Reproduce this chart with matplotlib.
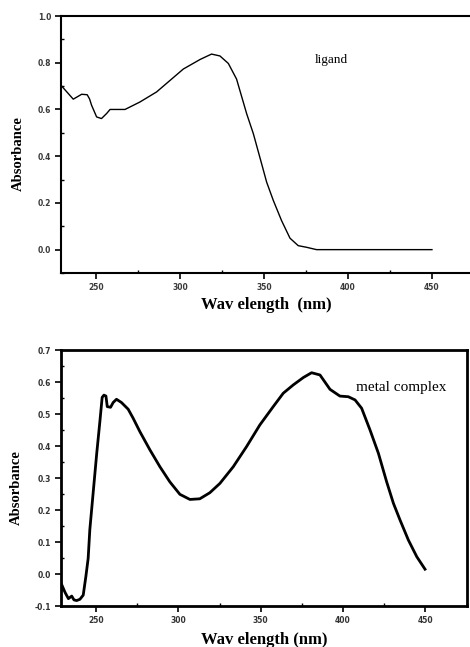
import matplotlib
matplotlib.use("Agg")
import matplotlib.pyplot as plt
from matplotlib.ticker import MultipleLocator

# ---------------------------------------------------------------------------
# Data
# ---------------------------------------------------------------------------
ligand_wl = [229.6, 236.5, 241.5, 244.8, 246.2, 247.4, 250.4, 253.3, 256.4,
             258.4, 267.3, 276.2, 286.1, 302.0, 312.0, 318.8, 323.8, 328.8,
             333.7, 339.7, 343.7, 348.6, 351.6, 355.6, 360.5, 365.5, 370.4,
             375.4, 381.3, 450.0]
ligand_abs = [0.700, 0.644, 0.665, 0.663, 0.645, 0.618, 0.568, 0.561, 0.583,
              0.600, 0.600, 0.632, 0.675, 0.773, 0.814, 0.837, 0.829, 0.797,
              0.730, 0.582, 0.496, 0.368, 0.289, 0.210, 0.124, 0.049, 0.017,
              0.010, 0.000, 0.000]

complex_wl = [229.2, 231.2, 233.2, 235.2, 236.6, 238.2, 240.2, 242.2, 243.8,
              245.2, 246.2, 248.2, 250.4, 252.4, 253.7, 254.8, 256.0, 256.8,
              258.8, 260.4, 262.4, 265.4, 269.5, 272.5, 276.6, 282.7, 288.8,
              294.8, 300.9, 307.0, 313.0, 319.1, 325.2, 333.3, 341.4, 349.5,
              357.6, 363.7, 369.8, 375.9, 380.9, 386.0, 392.1, 398.1, 403.2,
              407.3, 411.3, 416.4, 421.5, 426.5, 430.6, 434.6, 439.7, 444.8,
              449.8]
complex_abs = [-0.034, -0.058, -0.077, -0.069, -0.081, -0.083, -0.079, -0.066,
               -0.008, 0.049, 0.138, 0.252, 0.377, 0.481, 0.552, 0.559, 0.556,
               0.523, 0.521, 0.536, 0.546, 0.536, 0.515, 0.487, 0.445, 0.388,
               0.335, 0.288, 0.249, 0.233, 0.235, 0.254, 0.283, 0.335, 0.398,
               0.466, 0.523, 0.565, 0.591, 0.614, 0.629, 0.622, 0.577, 0.556,
               0.554, 0.544, 0.518, 0.450, 0.377, 0.288, 0.221, 0.169, 0.106,
               0.054, 0.015]

X_TICKS = [250, 300, 350, 400, 450]
TOP_Y_TICKS = [0.0, 0.2, 0.4, 0.6, 0.8, 1.0]
BOT_Y_TICKS = [-0.1, 0.0, 0.1, 0.2, 0.3, 0.4, 0.5, 0.6, 0.7]

SERIF = ["Liberation Serif", "DejaVu Serif"]
W, H = 470, 647


def style_axes(ax, spine_w, label_size, label_color):
    for s in ax.spines.values():
        s.set_linewidth(spine_w)
        s.set_color("black")
    ax.tick_params(axis="both", which="major", direction="out", length=4,
                   width=1.2, labelsize=label_size, labelcolor=label_color, pad=3)
    ax.tick_params(axis="both", which="minor", direction="in", length=2, width=1.0)
    for lab in ax.get_xticklabels() + ax.get_yticklabels():
        lab.set_fontweight("bold")


fig = plt.figure(figsize=(W / 100, H / 100), dpi=100)
fig.patch.set_facecolor("white")

# --- top panel: ligand (right side runs past the figure edge) ---
ax1 = fig.add_axes([61 / W, 1 - 273 / H, (480 - 61) / W, (273 - 16) / H])
ax1.plot(ligand_wl, ligand_abs, color="black", linewidth=1.0)
ax1.set_xlim(229.2, 478.6)
ax1.set_ylim(-0.1, 1.0)
ax1.set_xticks(X_TICKS)
ax1.set_yticks(TOP_Y_TICKS)
ax1.set_yticklabels([f"{v:.1f}" for v in TOP_Y_TICKS])
ax1.xaxis.set_minor_locator(MultipleLocator(25))
ax1.yaxis.set_minor_locator(MultipleLocator(0.1))
style_axes(ax1, 1.5, 5.5, "#3a3a3a")
ax1.spines["right"].set_visible(False)
ax1.text(380, 0.81, "ligand", family=SERIF, fontsize=9.5, va="center", ha="left")

# --- bottom panel: metal complex ---
ax2 = fig.add_axes([61 / W, 1 - 606 / H, (467 - 61) / W, (606 - 350) / H])
ax2.plot(complex_wl, complex_abs, color="black", linewidth=2.0)
ax2.set_xlim(228.7, 475.3)
ax2.set_ylim(-0.1, 0.7)
ax2.set_xticks(X_TICKS)
ax2.set_yticks(BOT_Y_TICKS)
ax2.set_yticklabels([f"{v:.1f}" for v in BOT_Y_TICKS])
ax2.xaxis.set_minor_locator(MultipleLocator(25))
ax2.yaxis.set_minor_locator(MultipleLocator(0.05))
style_axes(ax2, 2.0, 5.5, "#333333")
ax2.text(408, 0.584, "metal complex", family=SERIF, fontsize=11,
         va="center", ha="left")

# axis titles
label_kw = dict(family=SERIF, fontweight="bold", ha="center", va="center")
fig.text(266 / W, 1 - 305 / H, "Wav elength  (nm)", fontsize=12, **label_kw)
fig.text(18 / W, 1 - 154 / H, "Absorbance", rotation=90, fontsize=10.5, **label_kw)
fig.text(264 / W, 1 - 640 / H, "Wav elength (nm)", fontsize=12, **label_kw)
fig.text(16 / W, 1 - 488 / H, "Absorbance", rotation=90, fontsize=10.5, **label_kw)

fig.savefig("out.png", dpi=100, facecolor="white")
